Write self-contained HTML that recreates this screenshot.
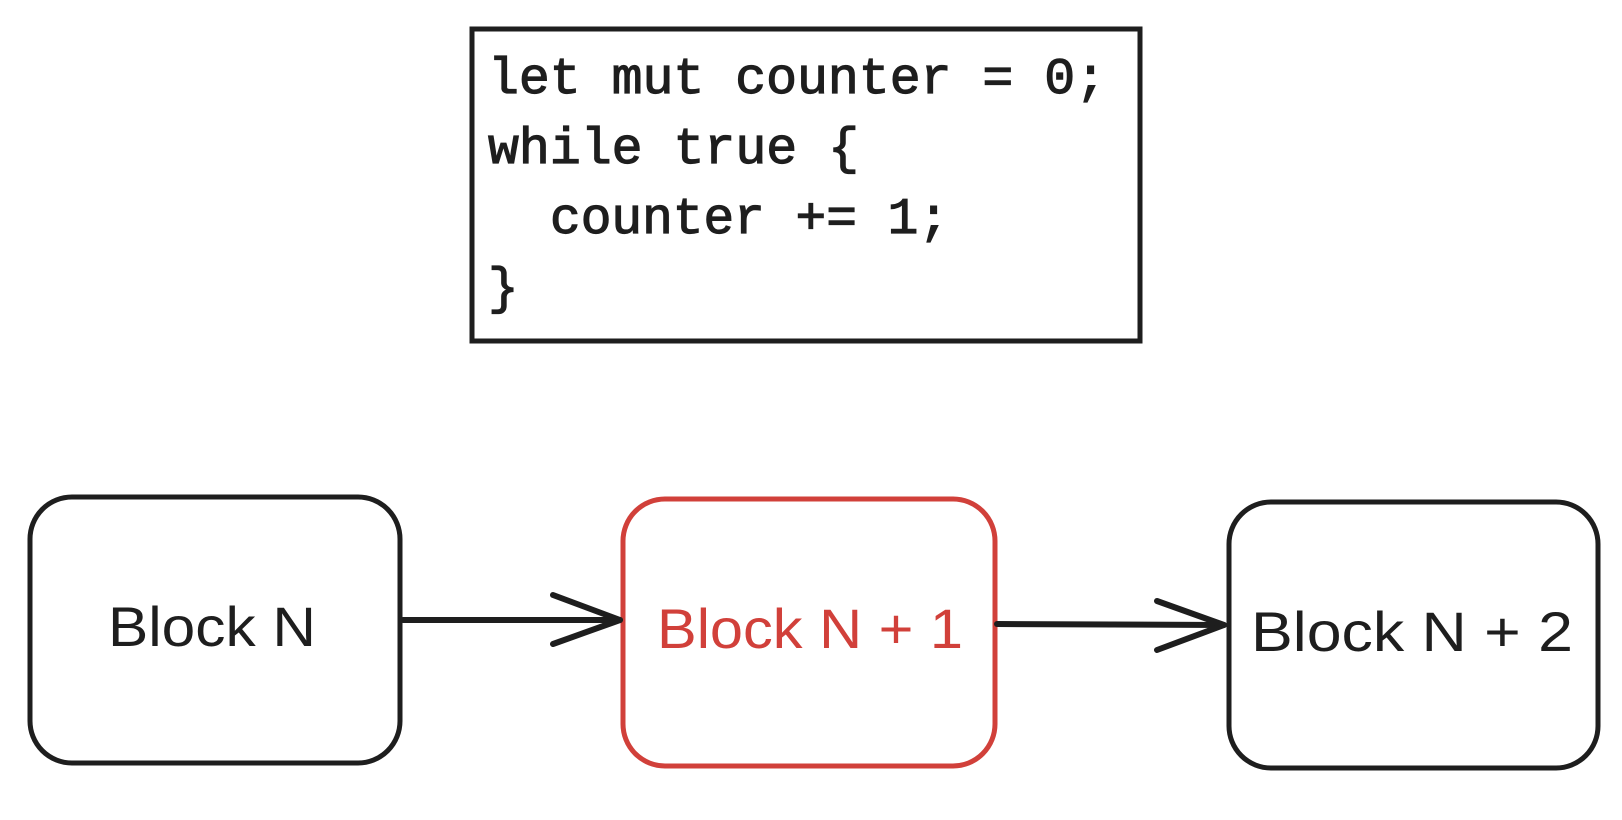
<!DOCTYPE html>
<html><head><meta charset="utf-8"><style>
html,body{margin:0;padding:0;background:#fff;}
svg{display:block;}
text{white-space:pre;}
</style></head><body>
<svg width="1622" height="820" viewBox="0 0 1622 820" xmlns="http://www.w3.org/2000/svg">
<rect x="472" y="29" width="668" height="312" fill="none" stroke="#1e1e1e" stroke-width="5"/>
<g font-family="Liberation Mono, monospace" font-size="51" fill="#1e1e1e" stroke="#1e1e1e" stroke-width="1.2">
<text x="488" y="93" textLength="618" lengthAdjust="spacingAndGlyphs">let mut counter = 0;</text>
<text x="488" y="163" textLength="371" lengthAdjust="spacingAndGlyphs">while true {</text>
<text x="550" y="233" textLength="399" lengthAdjust="spacingAndGlyphs">counter += 1;</text>
<text x="488" y="303">}</text>
</g>
<rect x="30" y="497" width="370" height="266" rx="42" fill="none" stroke="#1e1e1e" stroke-width="5"/>
<rect x="623" y="499" width="372" height="267" rx="42" fill="none" stroke="#d1403a" stroke-width="5"/>
<rect x="1229" y="502" width="369" height="266" rx="42" fill="none" stroke="#1e1e1e" stroke-width="5"/>
<g stroke="#1e1e1e" stroke-width="6" fill="none" stroke-linecap="round" stroke-linejoin="round">
<path d="M403 620 L620 620"/>
<path d="M553 595 L620 620 L553 644"/>
<path d="M997 624 L1224 625"/>
<path d="M1157 601 L1224 625 L1157 650"/>
</g>
<g font-family="Liberation Sans, sans-serif" font-size="56">
<text x="212" y="646" text-anchor="middle" fill="#1e1e1e" textLength="208" lengthAdjust="spacingAndGlyphs">Block N</text>
<text x="810" y="648" text-anchor="middle" fill="#d1403a" textLength="306" lengthAdjust="spacingAndGlyphs">Block N + 1</text>
<text x="1412" y="651" text-anchor="middle" fill="#1e1e1e" textLength="322" lengthAdjust="spacingAndGlyphs">Block N + 2</text>
</g>
</svg>
</body></html>
